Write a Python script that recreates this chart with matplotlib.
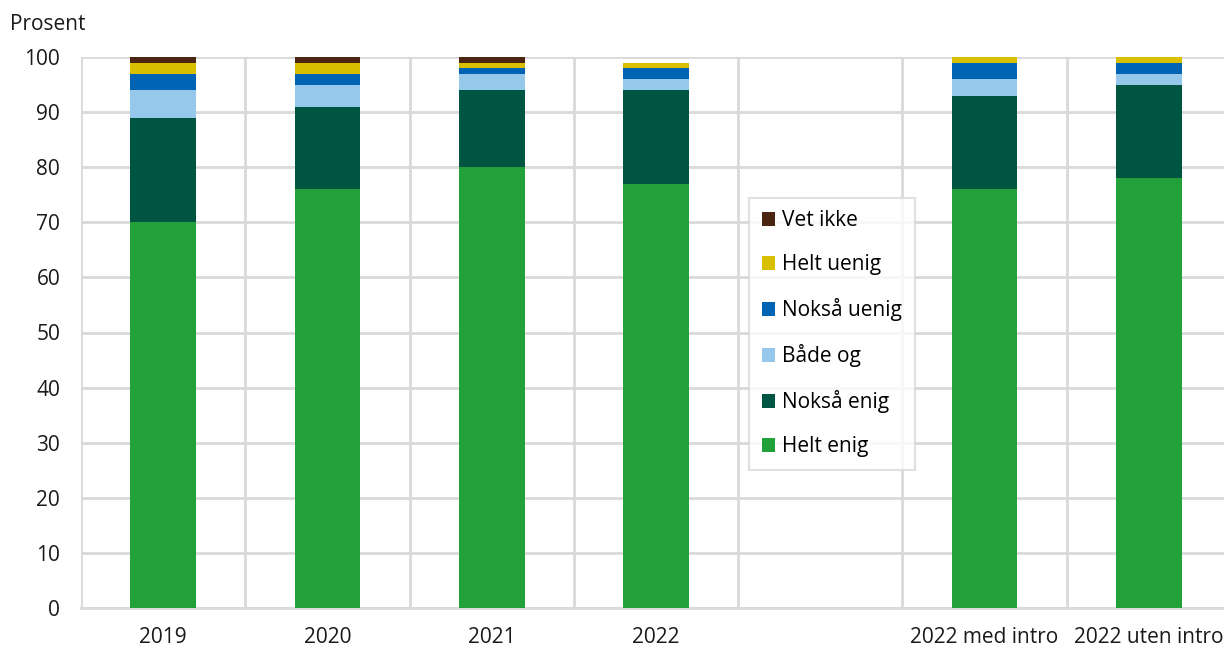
import numpy as np
import matplotlib
matplotlib.use("Agg")
import matplotlib.pyplot as plt

# ============================================================
# 数据
# ============================================================
categories = ["2019", "2020", "2021", "2022", "", "2022 med intro", "2022 uten intro"]
series_names = ["Helt enig", "Nokså enig", "Både og", "Nokså uenig", "Helt uenig", "Vet ikke"]

helt_enig = [70, 76, 80, 77, np.nan, 76, 78]
noksaa_enig = [19, 15, 14, 17, np.nan, 17, 17]
baade_og = [5, 4, 3, 2, np.nan, 3, 2]
noksaa_uenig = [3, 2, 1, 2, np.nan, 3, 2]
helt_uenig = [2, 2, 1, 1, np.nan, 1, 1]
vet_ikke = [1, 1, 1, 0, np.nan, 0, 0.4]

colors = ["#22a03a", "#005442", "#96c8ec", "#0064b4", "#d8c000", "#4a2511"]

plt.rcParams["font.family"] = ["Open Sans", "DejaVu Sans"]
FS = 15

fig = plt.figure(figsize=(12.24, 6.48), dpi=100)
ax = fig.add_axes([81 / 1224, 40 / 648, (1231 - 81) / 1224, (608 - 57) / 648])

x = np.arange(len(categories))
values = [helt_enig, noksaa_enig, baade_og, noksaa_uenig, helt_uenig, vet_ikke]
bottom = np.zeros(len(categories))
handles = []
for name, vals, col in zip(series_names, values, colors):
    v = np.nan_to_num(np.array(vals, dtype=float))
    h = ax.bar(x, v, width=0.4, bottom=bottom, color=col, label=name, zorder=3)
    handles.append(h)
    bottom += v

# 网格：水平线 + 类别分隔竖线
ax.set_xlim(-0.5, len(categories) - 0.5)
ax.set_ylim(0, 100)
ax.set_yticks(np.arange(0, 101, 10))
ax.set_xticks(x)
ax.set_xticklabels(categories)
for b in np.arange(-0.5, len(categories), 1.0):
    ax.axvline(b, color="#d9d9d9", linewidth=2, zorder=1)
ax.yaxis.grid(True, color="#d9d9d9", linewidth=2, zorder=1)
for s in ["top", "right"]:
    ax.spines[s].set_visible(False)
ax.spines["left"].set_visible(False)
ax.spines["bottom"].set_color("#d9d9d9")
ax.spines["bottom"].set_linewidth(2)
ax.tick_params(axis="both", length=0, labelsize=FS, colors="#1a1a1a")
ax.tick_params(axis="x", pad=14)
ax.tick_params(axis="y", pad=15)

fig.text(10 / 1224, 1 - 24 / 648, "Prosent", fontsize=FS, color="#1a1a1a",
         ha="left", va="center")

leg = fig.legend(handles[::-1], series_names[::-1], loc="upper left",
                 bbox_to_anchor=(749 / 1224, 1 - 198 / 648),
                 fontsize=FS, frameon=True, fancybox=False,
                 edgecolor="#d9d9d9", borderaxespad=0,
                 handlelength=0.65, handleheight=0.65, handletextpad=0.35,
                 labelspacing=1.1, borderpad=0.6)
leg.get_frame().set_linewidth(1.5)

fig.savefig("out.png", dpi=100)
